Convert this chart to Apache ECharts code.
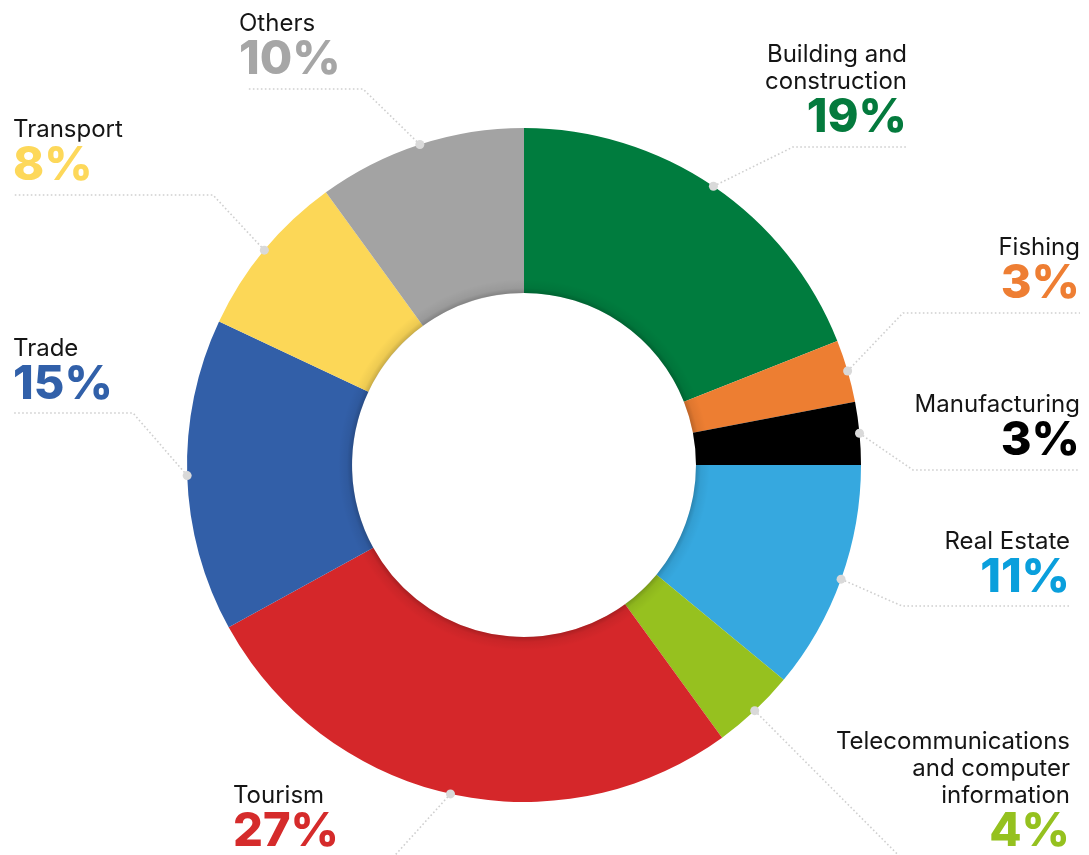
<!DOCTYPE html>
<html>
<head>
<meta charset="utf-8">
<script src="https://cdn.jsdelivr.net/npm/echarts@6/dist/echarts.min.js"></script>
<style>
  html, body { margin: 0; padding: 0; background: #ffffff; }
  #chart { width: 1089px; height: 855px; }
</style>
</head>
<body>
<div id="chart"></div>
<script>
// Sector shares (%)
const sectors = [
  'Building and\nconstruction',
  'Fishing',
  'Manufacturing',
  'Real Estate',
  'Telecommunications\nand computer\ninformation',
  'Tourism',
  'Trade',
  'Transport',
  'Others'
];
const shares = [19, 3, 3, 11, 4, 27, 15, 8, 10];

// Slice fills and matching percentage text colours
const sliceColors = ['#007c3e', '#ed7e32', '#000000', '#36a8df', '#96c11f', '#d5272a', '#325fa8', '#fcd757', '#a3a3a3'];
const shareColors = ['#047a3d', '#ee7e33', '#000000', '#0a9fdc', '#95c11f', '#d52b2b', '#3160a9', '#fdd85a', '#a6a6a6'];

// Label placement: guide line bend, horizontal run, and text anchor
const labelSpots = [
  { align: 'right', lineY: 147, bendX: 793, endX: 907,  textX: 907,  baseY: 132 },
  { align: 'right', lineY: 313, bendX: 903, endX: 1080, textX: 1080, baseY: 298 },
  { align: 'right', lineY: 470, bendX: 913, endX: 1080, textX: 1080, baseY: 455 },
  { align: 'right', lineY: 606, bendX: 902, endX: 1070, textX: 1070, baseY: 592 },
  { align: 'right', lineY: 905, bendX: 948, endX: 1070, textX: 1070, baseY: 846 },
  { align: 'left',  lineY: 905, bendX: 350, endX: 233,  textX: 233,  baseY: 846 },
  { align: 'left',  lineY: 413, bendX: 133, endX: 13,   textX: 13,   baseY: 399 },
  { align: 'left',  lineY: 195, bendX: 213, endX: 13,   textX: 13,   baseY: 180 },
  { align: 'left',  lineY: 89,  bendX: 363, endX: 248,  textX: 239,  baseY: 74 }
];

const CENTER = [524, 465];
const RADIUS = [172, 337];
const BASELINE_TO_BOTTOM = 9;   // gap between digit baseline and the bottom of the label box

// Point on the outer rim at the middle of each slice (clockwise from 12 o'clock)
const total = shares.reduce(function (a, b) { return a + b; }, 0);
const rimPoints = [];
(function () {
  let acc = 0;
  shares.forEach(function (v) {
    const a = (acc + v / 2) / total * Math.PI * 2;
    rimPoints.push([CENTER[0] + RADIUS[1] * Math.sin(a), CENTER[1] - RADIUS[1] * Math.cos(a)]);
    acc += v;
  });
})();

const rich = {
  n: { fontFamily: 'Inter', fontSize: 24, lineHeight: 27, color: '#151515' }
};
shareColors.forEach(function (c, i) {
  rich['p' + i] = { fontFamily: 'Inter', fontWeight: 800, fontSize: 47, lineHeight: 46, color: c };
});

const chart = echarts.init(document.getElementById('chart'), null, { renderer: 'canvas' });

chart.setOption({
  animation: false,
  backgroundColor: '#ffffff',
  graphic: rimPoints.map(function (pt) {
    return {
      type: 'circle',
      shape: { cx: pt[0], cy: pt[1], r: 4.5 },
      style: { fill: '#d9d9d9' },
      z: 100
    };
  }),
  series: [
    {
      type: 'pie',
      center: CENTER,
      radius: RADIUS,
      startAngle: 90,
      clockwise: true,
      avoidLabelOverlap: false,
      emphasis: { disabled: true },
      data: sectors.map(function (name, i) {
        return { name: name, value: shares[i], itemStyle: { color: sliceColors[i] } };
      }),
      label: {
        show: true,
        position: 'outside',
        rich: rich,
        formatter: function (p) {
          const i = p.dataIndex;
          const lines = sectors[i].split('\n').map(function (s) { return '{n|' + s + '}'; });
          return lines.join('\n') + '\n{p' + i + '|' + shares[i] + '%}';
        }
      },
      labelLine: {
        show: true,
        length: 20,
        length2: 20,
        lineStyle: { color: '#cfcfcf', width: 1.6, type: [1.6, 2.4] }
      },
      labelLayout: function (params) {
        const i = params.dataIndex;
        const s = labelSpots[i];
        return {
          x: s.textX,
          y: s.baseY + BASELINE_TO_BOTTOM,
          align: s.align,
          verticalAlign: 'bottom',
          labelLinePoints: [rimPoints[i].slice(), [s.bendX, s.lineY], [s.endX, s.lineY]]
        };
      }
    },
    {
      // soft inner shadow along the hole edge
      type: 'pie',
      center: CENTER,
      radius: [RADIUS[0], RADIUS[0] + 14],
      silent: true,
      z: 3,
      label: { show: false },
      labelLine: { show: false },
      emphasis: { disabled: true },
      data: [{
        value: 1,
        itemStyle: {
          color: new echarts.graphic.RadialGradient(0.5, 0.5, 0.5, [
            { offset: RADIUS[0] / (RADIUS[0] + 14), color: 'rgba(0,0,0,0.2)' },
            { offset: (RADIUS[0] + 5) / (RADIUS[0] + 14), color: 'rgba(0,0,0,0.06)' },
            { offset: 1, color: 'rgba(0,0,0,0)' }
          ])
        }
      }]
    }
  ]
});
</script>
</body>
</html>
